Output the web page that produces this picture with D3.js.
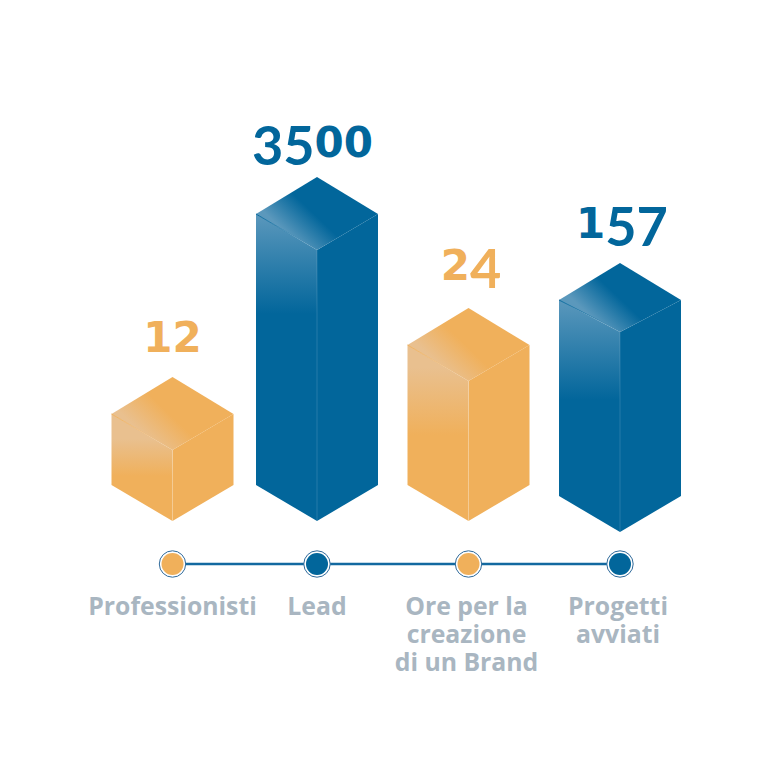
<!DOCTYPE html>
<html>
<head>
<meta charset="utf-8">
<script src="https://cdn.jsdelivr.net/npm/d3@7"></script>
<style>
  html, body { margin: 0; background: #fff; }
  svg { display: block; }
  .value { font-weight: 700; }
  .label { font-family: "Open Sans", sans-serif; font-weight: 700; font-size: 24.8px; fill: #a9b6c1; text-anchor: middle; }
</style>
</head>
<body>
<svg id="chart" width="768" height="768"></svg>
<script>
/* Data. Column heights are not proportional to the numbers printed on them */
const categories = ["Professionisti", "Lead", "Ore per la creazione di un Brand", "Progetti avviati"];
const values = ["12", "3500", "24", "157"];
const columnHeights = [71, 271, 140, 200];
const columnColors = ["orange", "blue", "orange", "blue"];
const labelLines = [["Professionisti"], ["Lead"], ["Ore per la", "creazione", "di un Brand"], ["Progetti", "avviati"]];

const palette = {
  orange: { base: "#f0b05b", light: "#e9c08f" },
  blue:   { base: "#02669b", light: "#5b98bc" }
};

/* Layout */
const centers = [172.5, 317, 468.5, 620];
const floors = [521, 521, 521, 532];
const frontRise = [36, 36, 36, 32];
const labelCenters = [172.5, 317, 466.5, 618];
const valueCenters = [172.5, 312.5, 471, 622];
const valueGaps = [25, 20, 28, 25];
const faceFade = [62, 100, 90, 100];
const faceHold = [0.4, 0, 0.25, 0];
const HALF_W = 61;
const ROOF = 36;   // vertical rise of the roof edge
const LINE_Y = 564;
const LABEL_Y = 615;
const LINE_H = 28;

/* Old-style figures: these digits are taller and hang below the baseline */
const DROPPED = "34579";

const x = d3.scaleOrdinal(categories, centers);
const h = d3.scaleLinear().domain([0, 271]).range([0, 271]);

const svg = d3.select("#chart");
const defs = svg.append("defs");

categories.forEach((c, i) => {
  const cx = x(c);
  const colors = palette[columnColors[i]];
  const floor = floors[i];
  const frontTop = floor - h(columnHeights[i]);
  const sideTop = frontTop - frontRise[i];
  const apex = sideTop - ROOF - 1;

  /* Left face: light at the top, fading into the solid colour */
  const faceGrad = defs.append("linearGradient")
    .attr("id", `face-${i}`)
    .attr("gradientUnits", "userSpaceOnUse")
    .attr("x1", 0).attr("x2", 0)
    .attr("y1", sideTop).attr("y2", sideTop + faceFade[i]);
  faceGrad.append("stop").attr("offset", faceHold[i]).attr("stop-color", colors.light);
  faceGrad.append("stop").attr("offset", 1).attr("stop-color", colors.base);

  /* Roof: light band along the front-left edge */
  const roofGrad = defs.append("linearGradient")
    .attr("id", `roof-${i}`)
    .attr("gradientUnits", "userSpaceOnUse")
    .attr("x1", cx - 30).attr("y1", frontTop - 16)
    .attr("x2", cx - 7).attr("y2", frontTop - 40);
  roofGrad.append("stop").attr("offset", 0).attr("stop-color", colors.light);
  roofGrad.append("stop").attr("offset", 1).attr("stop-color", colors.base);

  /* Thin dark crease at the left end of the roof edge */
  const creaseGrad = defs.append("linearGradient")
    .attr("id", `crease-${i}`)
    .attr("gradientUnits", "userSpaceOnUse")
    .attr("x1", cx - HALF_W).attr("y1", sideTop)
    .attr("x2", cx - 10).attr("y2", frontTop - 6);
  creaseGrad.append("stop").attr("offset", 0).attr("stop-color", colors.base);
  creaseGrad.append("stop").attr("offset", 1).attr("stop-color", colors.base).attr("stop-opacity", 0);

  const g = svg.append("g").attr("class", "column");
  const poly = pts => d3.line()(pts) + "Z";

  /* right face */
  g.append("path")
    .attr("d", poly([[cx, frontTop], [cx + HALF_W, sideTop], [cx + HALF_W, floor - ROOF], [cx, floor]]))
    .attr("fill", colors.base);
  /* left face */
  g.append("path")
    .attr("d", poly([[cx, frontTop], [cx - HALF_W, sideTop], [cx - HALF_W, floor - ROOF], [cx, floor]]))
    .attr("fill", `url(#face-${i})`);
  /* roof */
  g.append("path")
    .attr("d", poly([[cx, frontTop], [cx - HALF_W, sideTop], [cx, apex], [cx + HALF_W, sideTop]]))
    .attr("fill", `url(#roof-${i})`);
  g.append("line")
    .attr("x1", cx - HALF_W).attr("y1", sideTop)
    .attr("x2", cx - 10).attr("y2", frontTop - 6)
    .attr("stroke", `url(#crease-${i})`).attr("stroke-width", 1);
  /* front edge */
  g.append("line")
    .attr("x1", cx).attr("y1", frontTop)
    .attr("x2", cx).attr("y2", floor)
    .attr("stroke", "#fff").attr("stroke-opacity", 0.14).attr("stroke-width", 1);

  /* value above the column */
  const t = svg.append("text")
    .attr("class", "value")
    .attr("x", valueCenters[i])
    .attr("y", apex - valueGaps[i])
    .attr("text-anchor", "middle")
    .attr("fill", colors.base);
  let prev = 0;
  values[i].split("").forEach(d => {
    const tall = DROPPED.includes(d);
    const drop = tall ? 8 : 0;
    t.append("tspan")
      .attr("dy", drop - prev)
      .style("font-family", tall ? "Lato, sans-serif" : "'DejaVu Sans', sans-serif")
      .style("font-size", tall ? "54px" : "42px")
      .text(d);
    prev = drop;
  });
});

/* Timeline */
svg.append("line")
  .attr("x1", x(categories[0])).attr("x2", x(categories[3]))
  .attr("y1", LINE_Y).attr("y2", LINE_Y)
  .attr("stroke", "#1369a0").attr("stroke-width", 2.5);

categories.forEach((c, i) => {
  const cx = x(c);
  svg.append("circle")
    .attr("cx", cx).attr("cy", LINE_Y).attr("r", 13.2)
    .attr("fill", "#fff").attr("stroke", "#2f6a9b").attr("stroke-width", 1);
  svg.append("circle")
    .attr("cx", cx).attr("cy", LINE_Y).attr("r", 11)
    .attr("fill", palette[columnColors[i]].base);

  /* One text per category, the wrapped lines as tspans */
  const label = svg.append("text")
    .attr("class", "label")
    .attr("y", LABEL_Y);
  labelLines[i].forEach((line, j) => {
    label.append("tspan")
      .attr("x", labelCenters[i])
      .attr("dy", j === 0 ? 0 : LINE_H)
      .text(line);
  });
});
</script>
</body>
</html>
